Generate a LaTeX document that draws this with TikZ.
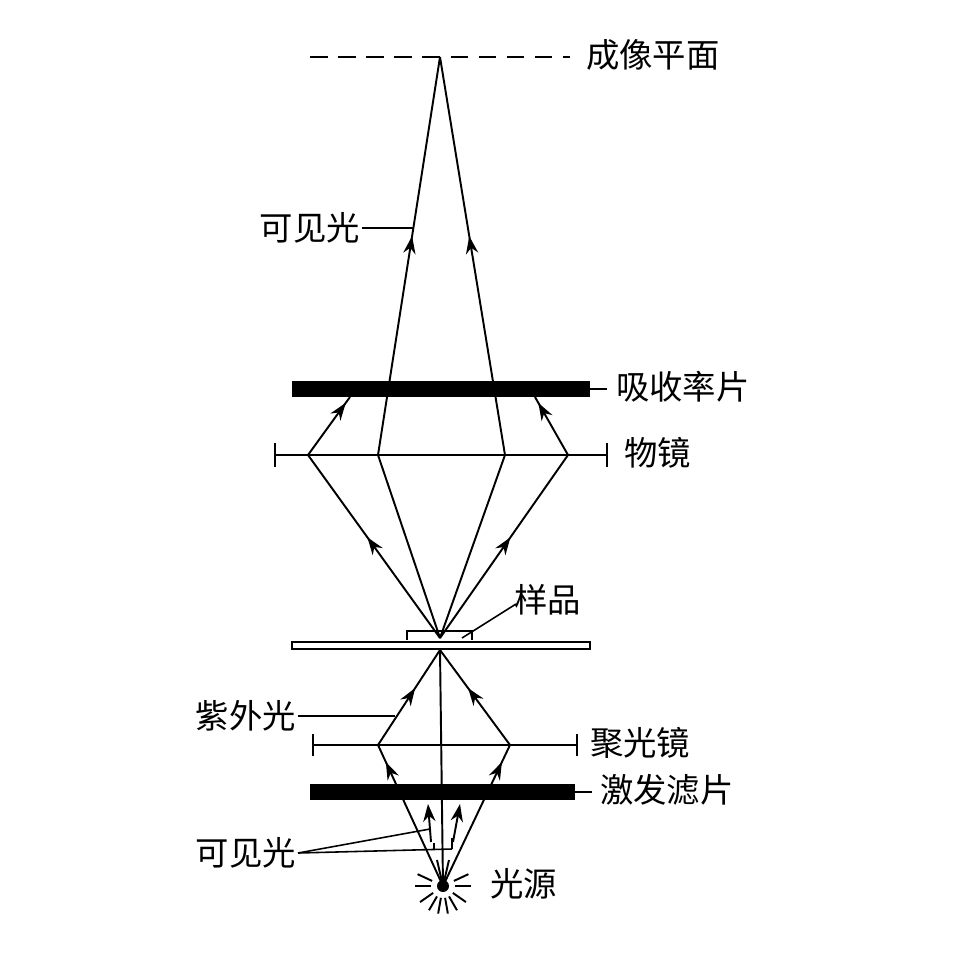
\documentclass[tikz,border=0pt]{standalone}
\usepackage{fontspec}
\newfontfamily\cjk{Noto Sans CJK SC}
\usetikzlibrary{decorations.markings,arrows.meta,calc}
\begin{document}
\begin{tikzpicture}[x=0.02cm,y=-0.02cm,
  ray/.style={line width=1.1pt},
  arr/.style={ray,postaction={decorate},decoration={markings,mark=at position #1 with {\arrow{Stealth[length=10pt,width=7pt]}}}},
  lbl/.style={font=\cjk\fontsize{19}{22}\selectfont,inner sep=1pt},
  bar/.style={fill=black},
  lead/.style={line width=0.9pt}]
\useasboundingbox (0,0) rectangle (954,954);
% imaging plane
\coordinate (F) at (440,57);
\draw[dashed,line width=1pt,dash pattern=on 10pt off 6pt] (310,57) -- (570,57);
\node[lbl,anchor=west] (img) at (584,55) {成像平面};
% objective points
\coordinate (L1) at (308,455); \coordinate (L2) at (378,455);
\coordinate (L3) at (505,455); \coordinate (L4) at (568,455);
\coordinate (S) at (440,638);
\draw[arr=0.55] (L2) -- (F);
\draw[arr=0.55] (L3) -- (F);
\node[lbl,anchor=east] (vis1) at (362,228) {可见光};
\coordinate (v1) at (413,228);
\draw[lead] (vis1.east) -- (v1);
% absorption filter
\fill[bar] (292,381) rectangle (590,397);
\coordinate (af) at (590,389);
\coordinate (afe) at (607,389);
\draw[lead] (af) -- (afe);
\node[lbl,anchor=west] (abs) at (614,387) {吸收率片};
% objective lens
\coordinate (oa) at (275,455); \coordinate (ob) at (607,455);
\draw[line width=1.1pt] (oa) -- (ob);
\draw[line width=1.1pt] (275,443) -- (275,467) (607,443) -- (607,467);
\node[lbl,anchor=west] (obj) at (622,453) {物镜};
% rays sample -> lens
\draw[arr=0.55] (S) -- (L1);
\draw[ray] (S) -- (L2);
\draw[ray] (S) -- (L3);
\draw[arr=0.55] (S) -- (L4);
\coordinate (A1) at (350,397); \coordinate (A4) at (535,397);
\draw[arr=0.9] (L1) -- (A1);
\draw[arr=0.9] (L4) -- (A4);
% sample & slide
\draw[line width=1pt] (407,640) -- (407,631) -- (472,631) -- (472,640);
\draw[line width=1pt] (292,642) rectangle (590,649);
\coordinate (sp) at (462,638); \coordinate (sq) at (516,604);
\draw[lead] (sp) -- (sq);
\node[lbl,anchor=west] (smp) at (512,600) {样品};
% below slide
\coordinate (G) at (440,650);
\coordinate (C1) at (378,745); \coordinate (C2) at (510,745);
\coordinate (src) at (443,886);
\draw[arr=0.6] (C1) -- (G);
\draw[arr=0.6] (C2) -- (G);
\draw[ray] (G) -- (src);
\draw[line width=1.1pt] (313,745) -- (577,745);
\draw[line width=1.1pt] (313,734) -- (313,756) (577,734) -- (577,756);
\node[lbl,anchor=west] (cond) at (588,743) {聚光镜};
\node[lbl,anchor=east] (uv) at (298,716) {紫外光};
\coordinate (u1) at (395,716);
\draw[lead] (uv.east) -- (u1);
% excitation filter
\fill[bar] (310,784) rectangle (575,800);
\draw[arr=0.88] (src) -- (C1);
\draw[arr=0.88] (src) -- (C2);
\draw[lead] (575,792) -- (592,792);
\node[lbl,anchor=west] (exc) at (598,790) {激发滤片};
% visible short arrows
\coordinate (t1) at (428,804); \coordinate (t2) at (460,804);
\draw[ray,-{Stealth[length=10pt,width=7pt]}] (431,842) -- (t1);
\draw[ray,-{Stealth[length=10pt,width=7pt]}] (453,842) -- (t2);
\draw[ray] (src) -- (437,860) (src) -- (449,860);
\node[lbl,anchor=east] (vis2) at (298,853) {可见光};
\coordinate (w1) at (430,829); \coordinate (w2) at (452,849);
\draw[lead] (vis2.east) -- (w1);
\draw[lead] (vis2.east) -- (w2);
\draw[lead] (452,849) -- (452,838) (434,849) -- (434,843);
% light source
\fill (src) circle (6);
\foreach \a in {0,35,60,80,100,120,145,180,-25,-155} {
  \draw[line width=1.1pt] ($(src)+(\a:12)$) -- ($(src)+(\a:28)$);
}
\node[lbl,anchor=west] (ls) at (488,884) {光源};
\end{tikzpicture}
\end{document}
